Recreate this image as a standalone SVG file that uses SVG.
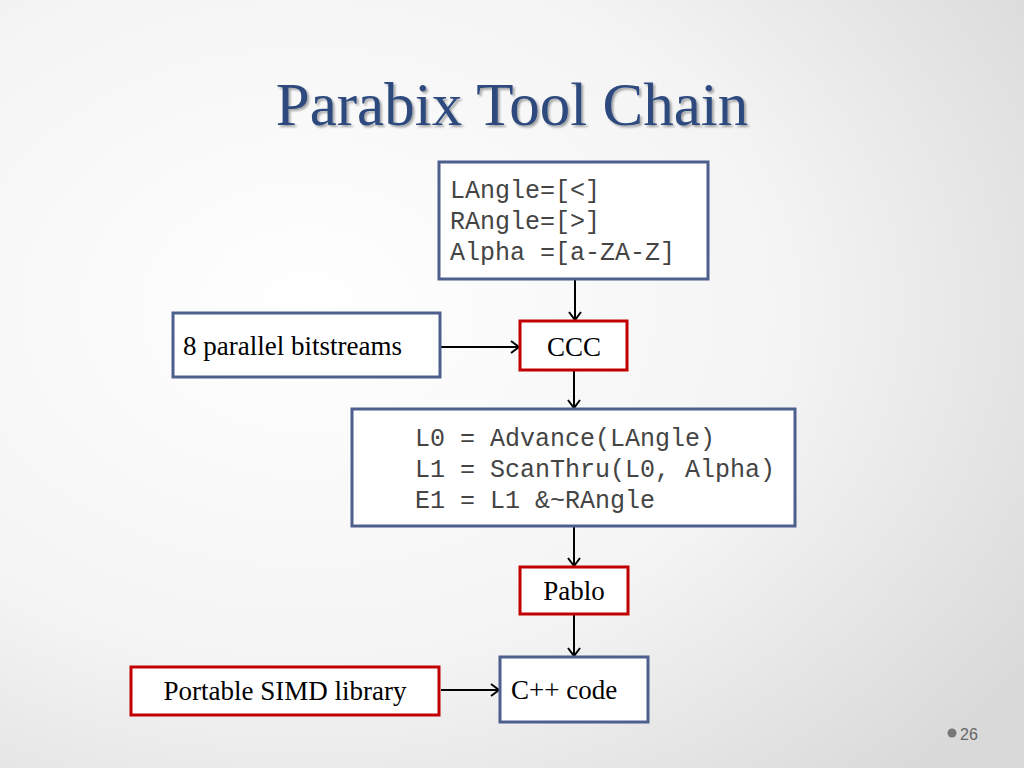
<svg xmlns="http://www.w3.org/2000/svg" width="1024" height="768" viewBox="0 0 1024 768">
<defs>
<radialGradient id="bg" cx="0.3" cy="0.4" r="0.85">
<stop offset="0" stop-color="#ffffff"/>
<stop offset="0.55" stop-color="#f4f4f4"/>
<stop offset="1" stop-color="#d9d9d9"/>
</radialGradient>
<marker id="arr" markerWidth="12" markerHeight="14" refX="11" refY="7" orient="auto" markerUnits="userSpaceOnUse">
<polyline points="3,1 11,7 3,13" fill="none" stroke="#000" stroke-width="2"/>
</marker>
<filter id="sh" x="-5%" y="-20%" width="110%" height="140%">
<feGaussianBlur in="SourceAlpha" stdDeviation="1.2"/>
<feOffset dx="2" dy="2" result="b"/>
<feComponentTransfer><feFuncA type="linear" slope="0.35"/></feComponentTransfer>
<feMerge><feMergeNode/><feMergeNode in="SourceGraphic"/></feMerge>
</filter>
</defs>
<style>
.blue{fill:#ffffff;stroke:#4d5f8c;stroke-width:3}
.red{fill:#ffffff;stroke:#c00000;stroke-width:3}
.mono{font-family:"Liberation Mono","Courier New",monospace;font-size:25px;fill:#444}
.serif{font-family:"Liberation Serif","Times New Roman",serif;font-size:27px;fill:#000}
.conn{stroke:#000;stroke-width:2;fill:none}
</style>
<rect width="1024" height="768" fill="url(#bg)"/>
<text x="512" y="125" text-anchor="middle" font-family="'Liberation Serif','DejaVu Serif',serif" font-size="61" fill="#2e4a7d" filter="url(#sh)">Parabix Tool Chain</text>

<g id="connectors">
<line class="conn" x1="575" y1="280" x2="575" y2="320" marker-end="url(#arr)"/>
<line class="conn" x1="441" y1="347" x2="519" y2="347" marker-end="url(#arr)"/>
<line class="conn" x1="574" y1="371" x2="574" y2="408" marker-end="url(#arr)"/>
<line class="conn" x1="574" y1="527" x2="574" y2="566" marker-end="url(#arr)"/>
<line class="conn" x1="574" y1="615" x2="574" y2="656" marker-end="url(#arr)"/>
<line class="conn" x1="441" y1="690" x2="499" y2="690" marker-end="url(#arr)"/>
</g>

<g id="defs-box">
<rect class="blue" x="439" y="162" width="269" height="117"/>
<text class="mono" x="450" y="198">LAngle=[&lt;]</text>
<text class="mono" x="450" y="229">RAngle=[&gt;]</text>
<text class="mono" x="450" y="260">Alpha =[a-ZA-Z]</text>
</g>

<g id="bitstreams">
<rect class="blue" x="173" y="313" width="267" height="64"/>
<text class="serif" x="183" y="355">8 parallel bitstreams</text>
</g>

<g id="ccc">
<rect class="red" x="520" y="321" width="107" height="49"/>
<text class="serif" x="574" y="356" text-anchor="middle">CCC</text>
</g>

<g id="pablo-code">
<rect class="blue" x="352" y="409" width="443" height="117"/>
<text class="mono" x="415" y="446">L0 = Advance(LAngle)</text>
<text class="mono" x="415" y="477">L1 = ScanThru(L0, Alpha)</text>
<text class="mono" x="415" y="508">E1 = L1 &amp;~RAngle</text>
</g>

<g id="pablo">
<rect class="red" x="520" y="567" width="108" height="47"/>
<text class="serif" x="574" y="600" text-anchor="middle">Pablo</text>
</g>

<g id="simd">
<rect class="red" x="131" y="667" width="308" height="48"/>
<text class="serif" x="285" y="700" text-anchor="middle">Portable SIMD library</text>
</g>

<g id="cpp">
<rect class="blue" x="500" y="657" width="148" height="65"/>
<text class="serif" x="511" y="699">C++ code</text>
</g>

<g id="page">
<circle cx="952" cy="733" r="4.5" fill="#777"/>
<text x="960" y="740" font-family="'Liberation Sans',Arial,sans-serif" font-size="16" fill="#666">26</text>
</g>
</svg>
